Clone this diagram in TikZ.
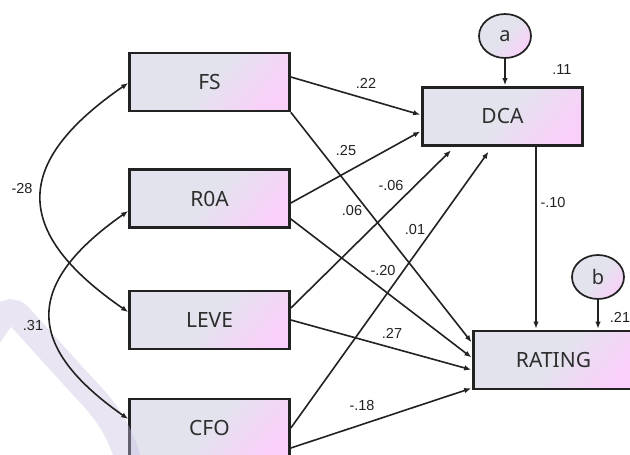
\documentclass[tikz,border=0pt]{standalone}
\usepackage{fontspec}
\setmainfont{Liberation Sans}
\newfontfamily\boxfont{Noto Sans}
\usetikzlibrary{arrows.meta,shapes.geometric}
\definecolor{boxgray}{HTML}{E3E3EE}
\definecolor{boxpink}{HTML}{F9D0F9}
\definecolor{inkline}{HTML}{222222}
\definecolor{inktext}{HTML}{2E2E2E}
\definecolor{wmark}{HTML}{C8BEE2}

\begin{document}
\begin{tikzpicture}[x=1pt,y=-1pt,
  tint/.style={top color=boxgray, bottom color=boxpink, middle color=boxgray, shading angle=50},
  var/.style={draw=inkline, line width=2.7pt, minimum width=160pt, minimum height=58pt,
    inner sep=0pt, tint, font=\boxfont\fontsize{21}{24}\selectfont, text=inktext},
  err/.style={ellipse, draw=inkline, line width=1.7pt, minimum width=52pt, minimum height=44pt,
    inner sep=0pt, tint, font=\boxfont\fontsize{20}{22}\selectfont, text=inktext},
  coef/.style={font=\fontsize{14.5}{16}\selectfont, text=inkline, inner sep=0pt},
  regr/.style={draw=inkline, line width=1.6pt, -{Latex[length=7pt,width=5.5pt]}, shorten >=1pt},
  corr/.style={draw=inkline, line width=1.6pt, {Latex[length=7pt,width=5.5pt]}-{Latex[length=7pt,width=5.5pt]}},
  watermark/.style={draw=wmark, opacity=0.4, line width=26pt, rounded corners=14pt},
]
\useasboundingbox (0,0) rectangle (630,455);
\clip (0,0) rectangle (630,455);
\fill[white] (0,0) rectangle (630,455);

% observed variables
\node[var] (FS)     at (209.5,82)   {FS};
\node[var] (ROA)    at (209.5,198.5){R0A};
\node[var] (LEVE)   at (209.5,320)  {LEVE};
\node[var] (CFO)    at (209.5,428)  {CFO};
\node[var] (DCA)    at (502.5,116.5){DCA};
\node[var] (RATING) at (553.5,360)  {RATING};

% error terms
\node[err] (a) at (505,36)  {a};
\node[err] (b) at (598,277) {b};

% faint background mark
\draw[watermark] (-20,348) -- (10,306) -- (75,378) .. controls (105,410) and (122,430) .. (132,475);

% correlations between exogenous variables
\draw[corr] ([yshift=-1pt]FS.west) .. controls +(-116,80) and +(-116,-80) .. ([yshift=8pt]LEVE.west);
\draw[corr] ([yshift=-12.5pt]ROA.west) .. controls +(-104,73) and +(-104,-73) .. ([yshift=9pt]CFO.west);

% paths into DCA
\draw[regr] ([yshift=5pt]FS.east) -- ([yshift=1.5pt]DCA.west);
\draw[regr] ([yshift=-4.5pt]ROA.east) -- ([yshift=-14.5pt]DCA.west);
\draw[regr, shorten >=5pt] ([yshift=12pt]LEVE.east) -- ([xshift=-48pt]DCA.south);
\draw[regr, shorten >=6pt] (CFO.east) -- ([xshift=-10.5pt]DCA.south);

% paths into RATING
\draw[regr] (FS.south east) -- ([yshift=17pt]RATING.west);
\draw[regr] ([yshift=-20.5pt]ROA.east) -- ([yshift=2pt]RATING.west);
\draw[regr] (LEVE.east) -- ([yshift=-10pt]RATING.west);
\draw[regr] ([yshift=-20pt]CFO.east) -- ([yshift=-28pt]RATING.west);
\draw[regr] ([xshift=33.5pt]DCA.south) -- ([xshift=33.5pt]DCA.south |- RATING.north);

% error terms
\draw[regr] (a.south) -- (a.south |- DCA.north);
\draw[regr] (b.south) -- (b.south |- RATING.north);

% coefficients
\node[coef] (c1)  at (22,189)  {-28};
\node[coef] (c2)  at (33,326)  {.31};
\node[coef] (c3)  at (366,83)  {.22};
\node[coef] (c4)  at (346,151) {.25};
\node[coef] (c5)  at (391,186) {-.06};
\node[coef] (c6)  at (352,211) {.06};
\node[coef] (c7)  at (415,230) {.01};
\node[coef] (c8)  at (553,203) {-.10};
\node[coef] (c9)  at (383,271) {-.20};
\node[coef] (c10) at (392,333) {.27};
\node[coef] (c11) at (362,406) {-.18};
\node[coef] (c12) at (562,70)  {.11};
\node[coef] (c13) at (620,317) {.21};
\end{tikzpicture}
\end{document}
